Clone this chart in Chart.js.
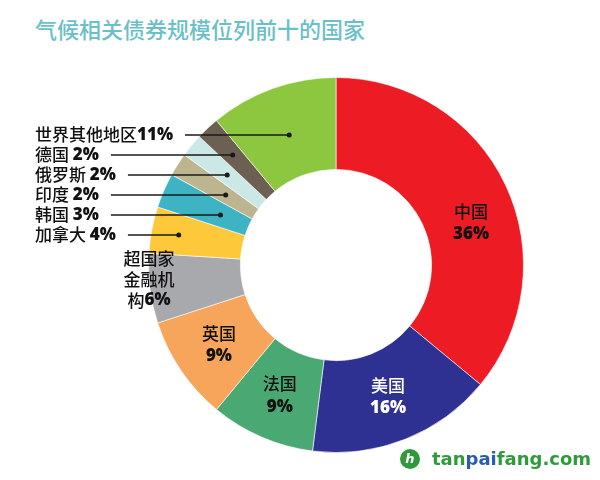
<!DOCTYPE html>
<html lang="zh">
<head>
    <meta charset="UTF-8">
    <title>气候相关债券规模位列前十的国家</title>
    <script src="https://cdn.jsdelivr.net/npm/chart.js@4"></script>
    <style>
        body {
            margin: 0;
            padding: 0;
            background: #fff;
            width: 600px;
            height: 480px;
            position: relative;
            overflow: hidden;
            font-family: "Noto Sans CJK SC", sans-serif;
        }
        #title {
            position: absolute;
            left: 35px;
            top: 12px;
            font-size: 22px;
            font-weight: 500;
            color: #6bbfc7;
        }
        #chart {
            position: absolute;
            left: 0;
            top: 0;
        }
        .brand {
            position: absolute;
            left: 400px;
            top: 448px;
            display: flex;
            align-items: center;
            font-family: "DejaVu Sans", sans-serif;
            font-weight: bold;
            font-size: 18px;
            color: #2f9a3a;
        }
        .brand .icon {
            width: 20px;
            height: 20px;
            border-radius: 50%;
            background: #2f9a3a;
            color: #fff;
            font-size: 13px;
            line-height: 20px;
            text-align: center;
            margin-right: 12px;
            font-style: italic;
        }
        .brand .pai { color: #2a5db0; }
    </style>
</head>
<body>
    <div id="title">气候相关债券规模位列前十的国家</div>
    <canvas id="chart" width="600" height="480"></canvas>
    <div class="brand"><span class="icon">h</span><span>tan</span><span class="pai">pai</span><span>fang.com</span></div>

    <script>
        // data
        const categories = ['中国', '美国', '法国', '英国', '超国家金融机构', '加拿大', '韩国', '印度', '俄罗斯', '德国', '世界其他地区'];
        const shares = [36, 16, 9, 9, 6, 4, 3, 2, 2, 2, 11];
        const sliceColors = ['#ed1c24', '#2e3192', '#4aa873', '#f7a55a', '#a7a9ac', '#fdc93a', '#3db3c4', '#bcb58f', '#cbe7e6', '#6b6052', '#8dc63f'];

        const cjkFont = '500 17px "Noto Sans CJK SC"';
        const pctFont = '800 17px "Open Sans"';

        // draw a line made of several text pieces, centred or left aligned
        function drawParts(ctx, parts, x, y, align, color) {
            let w = 0;
            parts.forEach(p => { ctx.font = p.font; w += ctx.measureText(p.t).width; });
            let cx = align === 'center' ? x - w / 2 : x;
            ctx.fillStyle = color;
            ctx.textAlign = 'left';
            ctx.textBaseline = 'middle';
            parts.forEach(p => {
                ctx.font = p.font;
                ctx.fillText(p.t, cx, y);
                cx += ctx.measureText(p.t).width;
            });
            return cx;
        }

        function pt(arc, frac, rf) {
            const a = arc.startAngle + (arc.endAngle - arc.startAngle) * frac;
            const r = arc.innerRadius + (arc.outerRadius - arc.innerRadius) * rf;
            return { x: arc.x + Math.cos(a) * r, y: arc.y + Math.sin(a) * r };
        }

        const labelPlugin = {
            id: 'sliceLabels',
            afterDatasetsDraw(chart) {
                const ctx = chart.ctx;
                const arcs = chart.getDatasetMeta(0).data;
                ctx.save();

                // labels inside the big slices
                const inner = [
                    { i: 0, frac: 0.56, rf: 0.5, color: '#111' },
                    { i: 1, frac: 0.5, rf: 0.5, color: '#fff' },
                    { i: 2, frac: 0.5, rf: 0.5, color: '#111' },
                    { i: 3, frac: 0.5, rf: 0.5, color: '#111' }
                ];
                inner.forEach(o => {
                    const p = pt(arcs[o.i], o.frac, o.rf);
                    drawParts(ctx, [{ t: categories[o.i], font: cjkFont }], p.x, p.y - 11, 'center', o.color);
                    drawParts(ctx, [{ t: shares[o.i] + '%', font: pctFont }], p.x, p.y + 12, 'center', o.color);
                });

                // supranational: three lines over the outer edge
                const g = pt(arcs[4], 0.63, 1.0);
                const nm = categories[4];
                drawParts(ctx, [{ t: nm.slice(0, 3), font: cjkFont }], g.x, g.y - 21, 'center', '#111');
                drawParts(ctx, [{ t: nm.slice(3, 6), font: cjkFont }], g.x, g.y, 'center', '#111');
                drawParts(ctx, [{ t: nm.slice(6), font: cjkFont }, { t: shares[4] + '%', font: pctFont }], g.x, g.y + 21, 'center', '#111');

                // callouts on the left with leader lines
                const order = [10, 9, 8, 7, 6, 5];
                order.forEach((idx, k) => {
                    const y = 135 + k * 20;
                    const sep = idx === 10 ? '' : ' ';
                    const endX = drawParts(ctx, [{ t: categories[idx] + sep, font: cjkFont }, { t: shares[idx] + '%', font: pctFont }], 35, y, 'left', '#111');
                    const arc = arcs[idx];
                    const a = (arc.startAngle + arc.endAngle) / 2;
                    let r = (y - arc.y) / Math.sin(a);
                    r = Math.max(arc.innerRadius + 10, Math.min(arc.outerRadius - 8, r));
                    const dx = arc.x + Math.cos(a) * r;
                    ctx.strokeStyle = '#1a1a1a';
                    ctx.lineWidth = 1.5;
                    ctx.beginPath();
                    ctx.moveTo(endX + 12, y);
                    ctx.lineTo(dx, y);
                    ctx.stroke();
                    ctx.fillStyle = '#1a1a1a';
                    ctx.beginPath();
                    ctx.arc(dx, y, 2.5, 0, Math.PI * 2);
                    ctx.fill();
                });
                ctx.restore();
            }
        };

        new Chart(document.getElementById('chart'), {
            type: 'doughnut',
            data: {
                labels: categories,
                datasets: [{
                    data: shares,
                    backgroundColor: sliceColors,
                    borderColor: 'rgba(255,255,255,0.6)',
                    borderWidth: 1
                }]
            },
            options: {
                responsive: false,
                animation: false,
                cutout: '51%',
                layout: { padding: { left: 148, right: 76, top: 77, bottom: 27 } },
                plugins: {
                    legend: { display: false },
                    tooltip: { enabled: false }
                }
            },
            plugins: [labelPlugin]
        });
    </script>
</body>
</html>
